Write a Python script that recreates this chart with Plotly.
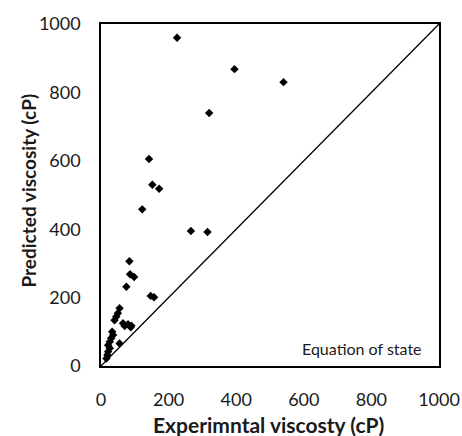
import plotly.graph_objects as go

# Experimental vs predicted viscosity (cP)
experimental = [225, 395, 540, 320, 142, 152, 172, 122, 266, 315,
                84, 86, 98, 75, 147, 157, 55, 50, 45, 40,
                65, 80, 90, 33, 36, 30, 26, 55, 21, 26,
                21, 19, 16, 70, 88]
predicted = [960, 868, 830, 740, 605, 530, 518, 458, 395, 392,
             306, 268, 260, 232, 205, 201, 169, 154, 144, 134,
             125, 122, 118, 100, 91, 81, 71, 66, 61, 52,
             42, 32, 22, 117, 113]

parity = [0, 1000]
ticks = [0, 200, 400, 600, 800, 1000]

font = "Lato, 'Open Sans', sans-serif"
text_color = "#1a1a1a"

fig = go.Figure()
fig.add_trace(go.Scatter(x=parity, y=parity, mode="lines",
                         line=dict(color="black", width=1.3),
                         hoverinfo="skip", showlegend=False))
fig.add_trace(go.Scatter(x=experimental, y=predicted, mode="markers",
                         marker=dict(symbol="diamond", size=6.5, color="black"),
                         showlegend=False))

axis_common = dict(range=[0, 1000], tickvals=ticks, showgrid=False, zeroline=False,
                   showline=True, linecolor="black", linewidth=1.5, mirror=True,
                   ticks="", automargin=False,
                   tickfont=dict(family=font, size=18, color=text_color))

fig.update_xaxes(ticklabelstandoff=17, **axis_common)
fig.update_yaxes(ticklabelstandoff=15, **axis_common)

# Axis titles
fig.add_annotation(x=0.497, y=-0.172, xref="paper", yref="paper",
                   text="<b>Experimntal viscosty (cP)</b>", showarrow=False,
                   xanchor="center", yanchor="middle",
                   font=dict(family=font, size=21, color=text_color))
fig.add_annotation(x=-0.214, y=0.512, xref="paper", yref="paper",
                   text="<b>Predicted viscosity (cP)</b>", showarrow=False,
                   textangle=-90, xanchor="center", yanchor="middle",
                   font=dict(family=font, size=19, color=text_color))

fig.add_annotation(x=955, y=52, xref="x", yref="y", text="Equation of state",
                   showarrow=False, xanchor="right", yanchor="middle",
                   font=dict(family=font, size=16, color=text_color))

fig.update_layout(width=462, height=436, plot_bgcolor="white", paper_bgcolor="white",
                  margin=dict(l=101, r=23, t=24, b=70))

fig.write_html("out.html")
